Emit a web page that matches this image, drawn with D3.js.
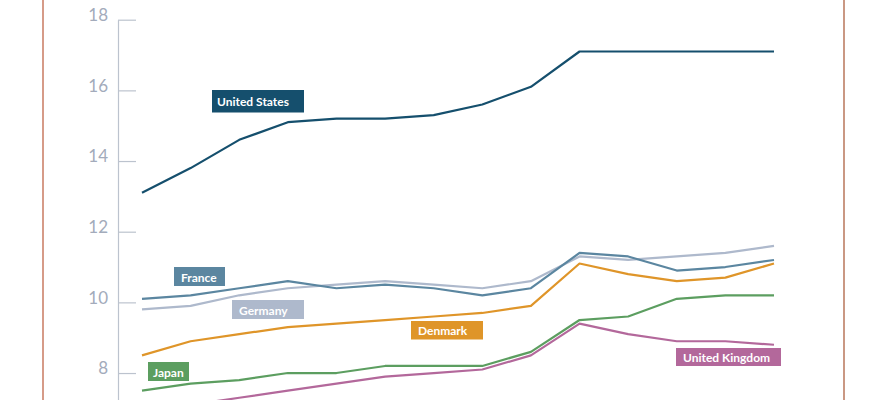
<!DOCTYPE html>
<html>
<head>
<meta charset="utf-8">
<script src="https://cdn.jsdelivr.net/npm/d3@7"></script>
<style>
  html, body { margin: 0; padding: 0; background: #fff; overflow: hidden; }
  svg { display: block; }
</style>
</head>
<body>
<svg id="chart" width="882" height="400"></svg>
<script>
// data
const years = [2000, 2001, 2002, 2003, 2004, 2005, 2006, 2007, 2008, 2009, 2010, 2011, 2012, 2013];
const unitedStates  = [13.1, 13.8, 14.6, 15.1, 15.2, 15.2, 15.3, 15.6, 16.1, 17.1, 17.1, 17.1, 17.1, 17.1];
const france        = [10.1, 10.2, 10.4, 10.6, 10.4, 10.5, 10.4, 10.2, 10.4, 11.4, 11.3, 10.9, 11.0, 11.2];
const germany       = [9.8, 9.9, 10.2, 10.4, 10.5, 10.6, 10.5, 10.4, 10.6, 11.3, 11.2, 11.3, 11.4, 11.6];
const denmark       = [8.5, 8.9, 9.1, 9.3, 9.4, 9.5, 9.6, 9.7, 9.9, 11.1, 10.8, 10.6, 10.7, 11.1];
const japan         = [7.5, 7.7, 7.8, 8.0, 8.0, 8.2, 8.2, 8.2, 8.6, 9.5, 9.6, 10.1, 10.2, 10.2];
const unitedKingdom = [6.9, 7.1, 7.3, 7.5, 7.7, 7.9, 8.0, 8.1, 8.5, 9.4, 9.1, 8.9, 8.9, 8.8];
const yTicks = [8, 10, 12, 14, 16, 18];

// drawing order: back to front
const series = [
  { name: 'United Kingdom', values: unitedKingdom, color: '#b3689b' },
  { name: 'Japan',          values: japan,         color: '#5c9e60' },
  { name: 'Denmark',        values: denmark,       color: '#df9529' },
  { name: 'Germany',        values: germany,       color: '#aeb9cc' },
  { name: 'France',         values: france,        color: '#5b86a0' },
  { name: 'United States',  values: unitedStates,  color: '#154f6d' }
];

// label boxes placement [left, top, width, height]
const labelBox = {
  'United States':  [212, 90, 92, 22.5],
  'France':         [174, 267, 51, 19],
  'Germany':        [232, 300, 72, 19],
  'Denmark':        [411, 321, 72, 18.5],
  'Japan':          [148, 362, 41, 19],
  'United Kingdom': [676, 348, 105, 18]
};

const svg = d3.select('#chart');

// frame side lines
svg.append('line')
  .attr('x1', 43).attr('x2', 43).attr('y1', 0).attr('y2', 400)
  .attr('stroke', '#c97a60').attr('stroke-width', 1.5);
svg.append('line')
  .attr('x1', 844).attr('x2', 844).attr('y1', 0).attr('y2', 400)
  .attr('stroke', '#b9765a').attr('stroke-width', 1.5);

const x = d3.scalePoint()
  .domain(years)
  .range([142, 774]);

const y = d3.scaleLinear()
  .domain([6, 18])
  .range([443.7, 19.7]);

// y axis, ticks pointing into the plot
const yAxis = svg.append('g')
  .attr('transform', 'translate(118,0)')
  .call(d3.axisLeft(y).tickValues(yTicks).tickSizeInner(-18).tickSizeOuter(0).tickPadding(10));

yAxis.select('.domain').attr('stroke', '#bcc3ce').attr('stroke-width', 1.2);
yAxis.selectAll('.tick line').attr('stroke', '#bcc3ce').attr('stroke-width', 1.2);
yAxis.selectAll('.tick text')
  .attr('dy', '0.05em')
  .attr('fill', '#a3abbb')
  .style('font-family', 'Lato, "Open Sans", sans-serif')
  .style('font-size', '17px');

const line = d3.line()
  .x((d, i) => x(years[i]))
  .y(d => y(d));

svg.append('g')
  .selectAll('path')
  .data(series)
  .enter()
  .append('path')
  .attr('fill', 'none')
  .attr('stroke', d => d.color)
  .attr('stroke-width', 2.2)
  .attr('stroke-linejoin', 'round')
  .attr('d', d => line(d.values));

// name tags
const tags = svg.append('g')
  .selectAll('g')
  .data(series)
  .enter()
  .append('g')
  .attr('transform', d => 'translate(' + labelBox[d.name][0] + ',' + labelBox[d.name][1] + ')');

tags.append('rect')
  .attr('width', d => labelBox[d.name][2])
  .attr('height', d => labelBox[d.name][3])
  .attr('fill', d => d.color);

tags.append('text')
  .attr('x', d => d.name == 'United States' || d.name == 'Japan' ? 5 : 7)
  .attr('y', d => labelBox[d.name][3] / 2 + 0.5)
  .attr('dominant-baseline', 'central')
  .attr('fill', '#fff')
  .style('font-family', 'Lato, "Open Sans", sans-serif')
  .style('font-weight', 700)
  .style('font-size', '12px')
  .text(d => d.name);
</script>
</body>
</html>
